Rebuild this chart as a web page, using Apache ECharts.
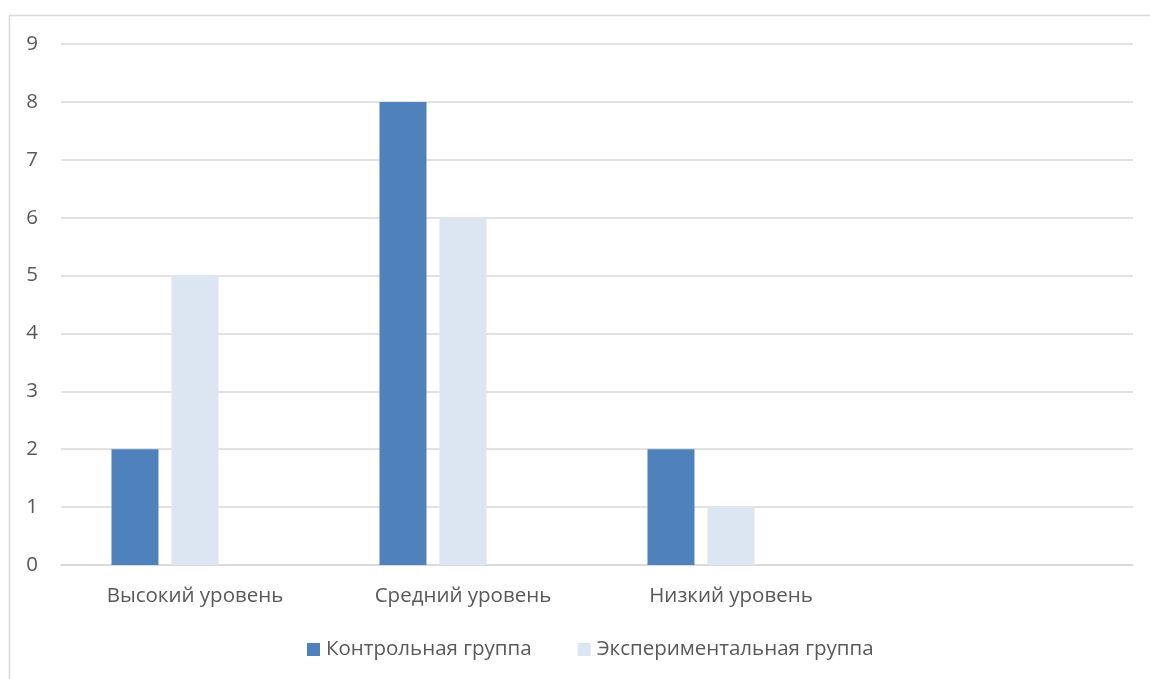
<!DOCTYPE html>
<html>
<head>
<meta charset="utf-8">
<script src="https://cdn.jsdelivr.net/npm/echarts@6/dist/echarts.min.js"></script>
<style>html,body{margin:0;padding:0;background:#fff}#c{width:1150px;height:679px}</style>
</head>
<body>
<div id="c"></div>
<script>
const categories = ['Высокий уровень', 'Средний уровень', 'Низкий уровень', ''];
const controlGroup = [2, 8, 2, null];
const experimentalGroup = [5, 6, 1, null];
const emptySeries = [null, null, null, null];
const seriesNames = ['Контрольная группа', 'Экспериментальная группа'];
const yTicks = [0, 1, 2, 3, 4, 5, 6, 7, 8, 9];

const font = '"Open Sans", "Noto Sans", sans-serif';
const chart = echarts.init(document.getElementById('c'), null, {renderer: 'canvas'});
chart.setOption({
  animation: false,
  backgroundColor: '#fff',
  graphic: [{
    type: 'rect', silent: true,
    shape: {x: 9.5, y: 15.5, width: 1300, height: 800},
    style: {fill: 'none', stroke: '#D9D9D9', lineWidth: 1.5}
  }],
  grid: {left: 61, right: 17, top: 44, bottom: 114, containLabel: false},
  legend: {
    data: seriesNames,
    top: 638.5,
    left: 307,
    padding: 0,
    itemWidth: 13, itemHeight: 13, itemGap: 46,
    icon: 'rect',
    textStyle: {color: '#595959', fontSize: 20.5, lineHeight: 22, fontFamily: font, padding: [0, 0, 0, 1]}
  },
  xAxis: {
    type: 'category',
    data: categories,
    axisLine: {lineStyle: {color: '#D9D9D9', width: 1.5}},
    axisTick: {show: false},
    axisLabel: {color: '#595959', fontSize: 20.5, fontFamily: font, margin: 21, interval: 0}
  },
  yAxis: {
    type: 'value',
    min: yTicks[0], max: yTicks[yTicks.length - 1], interval: 1,
    axisLine: {show: false},
    axisTick: {show: false},
    splitLine: {lineStyle: {color: '#D9D9D9', width: 1.5}},
    axisLabel: {color: '#595959', fontSize: 20.5, fontFamily: font, margin: 23}
  },
  series: [
    {name: seriesNames[0], type: 'bar', data: controlGroup, barWidth: 47, barGap: '27.7%',
     itemStyle: {color: '#4F81BD'}},
    {name: seriesNames[1], type: 'bar', data: experimentalGroup, barWidth: 47, barGap: '27.7%',
     itemStyle: {color: '#DCE6F2'}},
    {name: 'empty', type: 'bar', data: emptySeries, barWidth: 47, barGap: '27.7%',
     itemStyle: {color: '#A5A5A5'}}
  ]
});
</script>
</body>
</html>
